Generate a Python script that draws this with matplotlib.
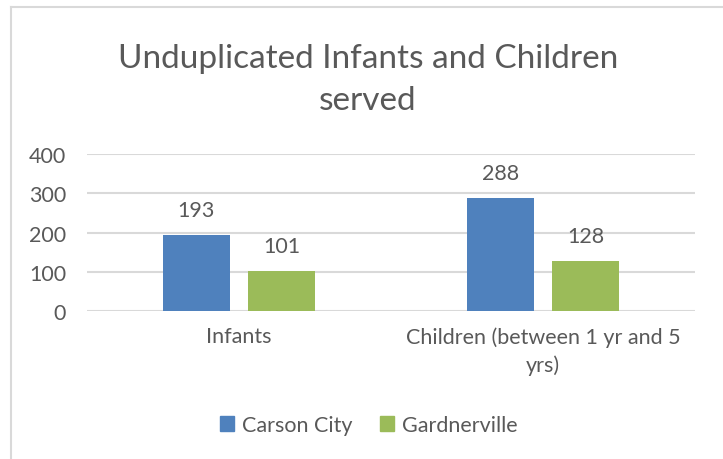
import matplotlib

matplotlib.use('Agg')
import matplotlib.pyplot as plt
from matplotlib.lines import Line2D
from matplotlib.patches import Patch

plt.rcParams['font.family'] = ['Lato', 'DejaVu Sans']

# data
categories = ['Infants', 'Children (between 1 yr and 5\nyrs)']
series_names = ['Carson City', 'Gardnerville']
carson_city = [193, 288]
gardnerville = [101, 128]
y_ticks = [0, 100, 200, 300, 400]

BLUE = '#4F81BD'
GREEN = '#9BBB59'
TEXT = '#595959'
GRID = '#D9D9D9'
FS = 15.5

fig = plt.figure(figsize=(7.23, 4.6), dpi=100)
ax = fig.add_axes([0.1203, 0.3217, 0.841, 0.3413])

x = list(range(len(categories)))
w = 0.22
off = 0.141
b1 = ax.bar([i - off for i in x], carson_city, w, color=BLUE, zorder=3)
b2 = ax.bar([i + off for i in x], gardnerville, w, color=GREEN, zorder=3)

for bars in (b1, b2):
    for r in bars:
        ax.annotate(str(int(r.get_height())), (r.get_x() + r.get_width() / 2, r.get_height()),
                    xytext=(0, 11), textcoords='offset points', ha='center', va='bottom',
                    fontsize=FS, color=TEXT)

ax.set_xlim(-0.5, 1.5)
ax.set_ylim(0, 400)
ax.set_yticks(y_ticks)
ax.set_xticks(x)
ax.set_xticklabels(categories, fontsize=FS, color=TEXT, linespacing=1.45)
ax.tick_params(axis='y', labelsize=FS, labelcolor=TEXT, length=0, pad=15)
ax.tick_params(axis='x', length=0, pad=11)
ax.yaxis.grid(True, color=GRID, linewidth=1.5, zorder=0)
for s in ax.spines.values():
    s.set_visible(False)

fig.text(0.509, 0.826, 'Unduplicated Infants and Children\nserved', ha='center', va='center',
         fontsize=24, color=TEXT, linespacing=1.48)

handles = [Patch(color=BLUE), Patch(color=GREEN)]
fig.legend(handles, series_names, loc='center', bbox_to_anchor=(0.51, 0.074), ncol=2,
           frameon=False, fontsize=FS, labelcolor=TEXT, handlelength=0.65, handleheight=0.65,
           handletextpad=0.35, columnspacing=1.3)

# chart border (top and left)
fig.add_artist(Line2D([11 / 723, 1], [1 - 8 / 460, 1 - 8 / 460], color=GRID, linewidth=1.5))
fig.add_artist(Line2D([11 / 723, 11 / 723], [0, 1 - 8 / 460], color=GRID, linewidth=1.5))

fig.savefig('out.png', dpi=100)
